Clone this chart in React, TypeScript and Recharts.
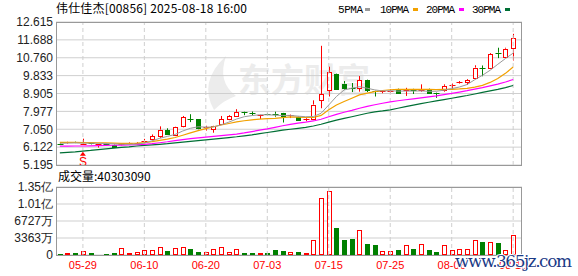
import React from "react";
import {
  Bar,
  CartesianGrid,
  ComposedChart,
  Line,
  ReferenceDot,
  ReferenceLine,
  XAxis,
  YAxis,
} from "recharts";

const dates = [
  "05-26", "05-27", "05-28", "05-29", "05-30", "06-02", "06-03", "06-04", "06-05", "06-06",
  "06-09", "06-10", "06-11", "06-12", "06-13", "06-16", "06-17", "06-18", "06-19", "06-20",
  "06-23", "06-24", "06-25", "06-26", "06-27", "06-30", "07-02", "07-03", "07-04", "07-07",
  "07-08", "07-09", "07-10", "07-11", "07-14", "07-15", "07-16", "07-17", "07-18", "07-21",
  "07-22", "07-23", "07-24", "07-25", "07-28", "07-29", "07-30", "07-31", "08-01", "08-04",
  "08-05", "08-06", "08-07", "08-08", "08-11", "08-12", "08-13", "08-14", "08-15", "08-18",
];

const open = [
  6.30, 6.33, 6.40, 6.27, 6.32, 6.26, 6.29, 6.24, 6.24, 6.29,
  6.30, 6.40, 6.52, 6.71, 7.00, 6.76, 7.20, 7.58, 7.57, 7.12,
  7.09, 7.32, 7.57, 7.75, 7.94, 7.89, 7.76, 7.84, 7.85, 7.88,
  7.75, 7.71, 7.56, 7.60, 8.57, 9.07, 9.92, 9.42, 9.20, 9.18,
  9.63, 9.02, 9.00, 9.03, 9.14, 9.05, 9.08, 9.05, 9.14, 8.92,
  9.07, 9.30, 9.43, 9.50, 9.73, 10.22, 10.22, 11.02, 10.80, 11.28,
];
const high = [
  6.33, 6.40, 6.42, 6.56, 6.34, 6.30, 6.31, 6.26, 6.32, 6.37,
  6.38, 6.55, 6.78, 7.20, 7.10, 7.18, 7.74, 7.83, 7.58, 7.23,
  7.24, 7.74, 7.78, 8.09, 7.96, 7.97, 7.80, 7.88, 7.96, 7.90,
  7.81, 7.73, 7.63, 8.55, 11.38, 10.30, 9.94, 9.55, 9.45, 9.81,
  9.65, 9.05, 9.06, 9.12, 9.16, 9.20, 9.15, 9.38, 9.16, 8.95,
  9.38, 9.42, 9.55, 9.65, 10.37, 10.36, 11.00, 11.28, 11.28, 12.00,
];
const low = [
  6.24, 6.30, 6.33, 6.25, 6.26, 6.10, 6.24, 6.12, 6.22, 6.26,
  6.28, 6.38, 6.48, 6.60, 6.76, 6.70, 7.15, 7.42, 7.05, 6.98,
  6.87, 7.28, 7.52, 7.70, 7.78, 7.77, 7.58, 7.78, 7.70, 7.40,
  7.63, 7.52, 7.47, 7.52, 8.14, 8.75, 9.10, 9.10, 8.98, 9.00,
  8.98, 8.75, 8.92, 8.94, 8.90, 8.78, 8.88, 9.00, 8.88, 8.68,
  9.00, 9.10, 9.40, 9.35, 9.70, 9.80, 10.18, 10.74, 10.78, 10.62,
];
const close = [
  6.27, 6.37, 6.36, 6.31, 6.28, 6.29, 6.27, 6.16, 6.28, 6.34,
  6.34, 6.45, 6.69, 7.03, 6.78, 7.16, 7.66, 7.56, 7.12, 7.15,
  7.23, 7.57, 7.73, 7.95, 7.90, 7.86, 7.79, 7.82, 7.82, 7.74,
  7.78, 7.54, 7.59, 8.33, 8.88, 10.00, 9.15, 9.20, 9.18, 9.60,
  9.12, 9.00, 9.03, 9.05, 8.95, 9.08, 9.06, 9.08, 8.92, 8.90,
  9.30, 9.33, 9.50, 9.58, 10.25, 10.20, 10.93, 10.98, 11.23, 11.80,
];

// shares
const volume = [
  2.0e6, 4.0e6, 4.0e6, 7.9e6, 4.0e6, 2.0e6, 2.0e6, 4.0e6, 13.8e6, 4.0e6,
  5.9e6, 9.9e6, 9.9e6, 15.8e6, 7.9e6, 13.8e6, 15.8e6, 11.9e6, 5.9e6, 5.9e6,
  11.9e6, 15.8e6, 5.9e6, 11.9e6, 4.0e6, 4.0e6, 4.0e6, 4.0e6, 9.9e6, 7.9e6,
  5.3e6, 5.3e6, 3.3e6, 29e6, 112e6, 127e6, 54e6, 30e6, 32e6, 49e6,
  22e6, 20e6, 8.6e6, 8e6, 10e6, 20e6, 12e6, 22e6, 10e6, 6.6e6,
  20e6, 10e6, 11e6, 11e6, 29e6, 26e6, 26e6, 24e6, 10e6, 40303090,
];

const ma5 = [
  6.32, 6.33, 6.34, 6.33, 6.33, 6.32, 6.31, 6.29, 6.27, 6.27,
  6.28, 6.33, 6.45, 6.58, 6.68, 6.78, 6.96, 7.10, 7.18, 7.16,
  7.17, 7.28, 7.42, 7.58, 7.70, 7.76, 7.80, 7.80, 7.78, 7.76,
  7.77, 7.73, 7.70, 7.71, 7.88, 8.31, 8.75, 9.09, 9.18, 9.26,
  9.18, 9.09, 9.04, 9.05, 9.03, 9.03, 9.03, 9.04, 9.02, 9.02,
  9.08, 9.16, 9.24, 9.37, 9.62, 9.85, 10.11, 10.42, 10.72, 11.00,
];
const ma10 = [
  6.37, 6.37, 6.37, 6.36, 6.36, 6.35, 6.34, 6.33, 6.32, 6.32,
  6.33, 6.36, 6.41, 6.47, 6.54, 6.62, 6.74, 6.86, 6.98, 7.08,
  7.18, 7.27, 7.35, 7.43, 7.49, 7.54, 7.58, 7.60, 7.61, 7.65,
  7.69, 7.68, 7.66, 7.66, 7.77, 8.06, 8.31, 8.49, 8.66, 8.83,
  8.92, 9.00, 9.06, 9.10, 9.12, 9.12, 9.12, 9.12, 9.12, 9.11,
  9.12, 9.12, 9.14, 9.17, 9.24, 9.33, 9.48, 9.68, 9.95, 10.28,
];
const ma20 = [
  6.17, 6.17, 6.18, 6.18, 6.19, 6.20, 6.21, 6.22, 6.23, 6.24,
  6.25, 6.27, 6.30, 6.35, 6.40, 6.46, 6.51, 6.56, 6.60, 6.64,
  6.68, 6.72, 6.76, 6.80, 6.86, 6.93, 7.00, 7.07, 7.15, 7.23,
  7.30, 7.37, 7.42, 7.48, 7.57, 7.70, 7.82, 7.93, 8.03, 8.14,
  8.24, 8.32, 8.40, 8.47, 8.53, 8.58, 8.63, 8.68, 8.73, 8.78,
  8.85, 8.91, 8.98, 9.05, 9.13, 9.21, 9.30, 9.39, 9.50, 9.63,
];
const ma30 = [
  5.82, 5.85, 5.88, 5.92, 5.95, 5.99, 6.03, 6.07, 6.11, 6.14,
  6.18, 6.21, 6.24, 6.27, 6.30, 6.34, 6.38, 6.42, 6.46, 6.50,
  6.54, 6.58, 6.62, 6.66, 6.71, 6.76, 6.82, 6.88, 6.94, 7.00,
  7.05, 7.10, 7.15, 7.22, 7.31, 7.42, 7.52, 7.61, 7.70, 7.79,
  7.88, 7.95, 8.00, 8.06, 8.14, 8.22, 8.30, 8.38, 8.45, 8.52,
  8.59, 8.66, 8.73, 8.80, 8.88, 8.96, 9.04, 9.12, 9.21, 9.32,
];

const priceTicks = [5.195, 6.122, 7.05, 7.977, 8.905, 9.833, 10.76, 11.688, 12.615];
const volTicks = [0, 33635000, 67270000, 100905000, 134540000];
const labelDates = ["05-29", "06-10", "06-20", "07-03", "07-15", "07-25", "08-06", "08-18"];
const signals = [{ date: "05-29", text: "S" }];

const RED = "#ff0000";
const GREEN = "#008000";
const maColors = { ma5: "#9a9a9a", ma10: "#f2a100", ma20: "#ff00ff", ma30: "#006f35" };

const data = dates.map((d, i) => ({
  date: d,
  open: open[i],
  high: high[i],
  low: low[i],
  close: close[i],
  volume: volume[i],
  ma5: ma5[i],
  ma10: ma10[i],
  ma20: ma20[i],
  ma30: ma30[i],
}));

const axisFont = { fontFamily: "Liberation Sans, Arial", fontSize: 12, fill: "#222" };

const Candle = (props: any) => {
  const { x, y, width, height, payload } = props;
  if (!payload) return null;
  const top = Math.min(y, y + height);
  const h = Math.abs(height);
  const span = payload.high - payload.low || 1;
  const py = (v: number) => top + ((payload.high - v) / span) * h;
  const cx = Math.round(x + width / 2) + 0.5;
  const up = payload.close >= payload.open;
  const color = up ? RED : GREEN;
  const yo = py(payload.open);
  const yc = py(payload.close);
  const bTop = Math.min(yo, yc);
  const bBot = Math.max(yo, yc);
  return (
    <g>
      <line x1={cx} x2={cx} y1={top} y2={bTop} stroke={color} />
      <line x1={cx} x2={cx} y1={bBot} y2={top + h} stroke={color} />
      {bBot - bTop < 1.5 ? (
        <line x1={cx - 3} x2={cx + 3} y1={Math.round(bTop) + 0.5} y2={Math.round(bTop) + 0.5} stroke={color} />
      ) : (
        <rect
          x={cx - 2}
          y={Math.round(bTop) + 0.5}
          width={4}
          height={Math.max(1, Math.round(bBot - bTop))}
          fill={up ? "#fff" : color}
          stroke={color}
        />
      )}
    </g>
  );
};

const VolBar = (props: any) => {
  const { x, y, width, height, payload } = props;
  if (!payload) return null;
  const up = payload.close >= payload.open;
  const cx = Math.round(x + width / 2);
  const top = Math.round(y);
  const h = Math.max(1, Math.round(height));
  if (up) {
    return <rect x={cx - 2 + 0.5} y={top + 0.5} width={4} height={h - 1} fill="#fff" stroke={RED} />;
  }
  return <rect x={cx - 2} y={top} width={5} height={h} fill={GREEN} />;
};

const SignalMark = (props: any) => {
  const { cx, cy, text } = props;
  const t = cy + 7;
  return (
    <g>
      <path d={`M${cx} ${t} L${cx - 3} ${t + 4} L${cx + 3} ${t + 4} Z`} fill={RED} />
      <text x={cx} y={t + 14} textAnchor="middle" fill={RED} fontSize={12} fontFamily="Liberation Sans, Arial">
        {text}
      </text>
    </g>
  );
};

const volFormat = (v: number) => {
  if (v >= 1e8) return (v / 1e8).toFixed(2) + "亿";
  if (v > 0) return Math.floor(v / 1e4) + "万";
  return "0";
};

const legendFont = { fontSize: 11, fill: "#000", fontFamily: "Liberation Mono" };

export default function App() {
  return (
    <div style={{ position: "absolute", left: 0, top: 0, width: 578, height: 276, background: "#fff" }}>
      <svg width={578} height={276} style={{ position: "absolute", left: 0, top: 0 }}>
        <path d="M214 110 Q198 82 226 56 Q217 82 236 96 Q224 100 214 110 Z" fill="#ececec" />
        <text x={238} y={92} fontSize={33} fontWeight="bold" fill="#ececec" fontFamily="Noto Sans CJK SC">
          东方财富
        </text>
      </svg>

      <div style={{ position: "absolute", left: 0, top: 0 }}>
        <ComposedChart width={578} height={176} data={data} margin={{ top: 22, right: 56, bottom: 11, left: 0 }}>
          <CartesianGrid vertical={false} stroke="#cfcfcf" />
          <XAxis dataKey="date" hide padding={{ left: 0, right: 5 }} />
          <YAxis
            domain={[5.195, 12.615]}
            ticks={priceTicks}
            allowDataOverflow
            interval={0}
            axisLine={false}
            tickLine={false}
            tickSize={1}
            tickMargin={2}
            width={56}
            tick={axisFont}
            tickFormatter={(v) => v.toFixed(3)}
          />
          {labelDates.map((d) => (
            <ReferenceLine key={d} x={d} stroke="#cfcfcf" strokeDasharray="4 3" />
          ))}
          <Line dataKey="ma30" stroke={maColors.ma30} strokeWidth={1.2} dot={false} isAnimationActive={false} />
          <Line dataKey="ma20" stroke={maColors.ma20} strokeWidth={1.2} dot={false} isAnimationActive={false} />
          <Line dataKey="ma10" stroke={maColors.ma10} strokeWidth={1.2} dot={false} isAnimationActive={false} />
          <Line dataKey="ma5" stroke={maColors.ma5} strokeWidth={1} dot={false} isAnimationActive={false} />
          <Bar
            dataKey={(d: any) => [d.low, d.high]}
            shape={(p: any) => <Candle {...p} />}
            isAnimationActive={false}
          />
          {signals.map((s) => (
            <ReferenceDot
              key={s.date}
              x={s.date}
              y={low[dates.indexOf(s.date)]}
              r={0}
              shape={(p: any) => <SignalMark {...p} text={s.text} />}
            />
          ))}
        </ComposedChart>
      </div>

      <div style={{ position: "absolute", left: 0, top: 170 }}>
        <ComposedChart width={578} height={106} data={data} margin={{ top: 17, right: 56, bottom: 0, left: 0 }}>
          <CartesianGrid vertical={false} stroke="#cfcfcf" />
          <XAxis
            dataKey="date"
            ticks={labelDates}
            interval={0}
            padding={{ left: 0, right: 5 }}
            axisLine={false}
            tickLine={false}
            tickSize={4}
            tickMargin={2}
            height={21}
            tick={{ fontFamily: "Liberation Sans, Arial", fontSize: 11, fill: RED }}
          />
          <YAxis
            domain={[0, 134540000]}
            ticks={volTicks}
            interval={0}
            allowDataOverflow
            axisLine={false}
            tickLine={false}
            tickSize={1}
            tickMargin={2}
            width={56}
            tick={axisFont}
            tickFormatter={volFormat}
          />
          {labelDates.map((d) => (
            <ReferenceLine key={d} x={d} stroke="#cfcfcf" strokeDasharray="4 3" />
          ))}
          <Bar dataKey="volume" shape={(p: any) => <VolBar {...p} />} isAnimationActive={false} />
        </ComposedChart>
      </div>

      <svg width={578} height={276} style={{ position: "absolute", left: 0, top: 0, pointerEvents: "none" }}>
        <rect x={56.5} y={22.5} width={465} height={143} fill="none" stroke="#999" />
        <rect x={56.5} y={187.5} width={465} height={68} fill="none" stroke="#999" />
        <text x={56} y={12.5} fontSize={12} fill="#000" fontFamily="Noto Sans CJK SC" textLength={191}>
          伟仕佳杰[00856] 2025-08-18 16:00
        </text>
        <text x={338} y={12.5} {...legendFont} textLength={25}>5PMA</text>
        <rect x={365} y={8} width={5} height={3} fill={maColors.ma5} />
        <text x={380} y={12.5} {...legendFont} textLength={29}>10PMA</text>
        <rect x={413} y={8} width={5} height={3} fill={maColors.ma10} />
        <text x={426} y={12.5} {...legendFont} textLength={29}>20PMA</text>
        <rect x={459} y={8} width={5} height={3} fill={maColors.ma20} />
        <text x={472} y={12.5} {...legendFont} textLength={29}>30PMA</text>
        <rect x={505} y={8} width={5} height={3} fill={maColors.ma30} />
        <text x={58} y={181} fontSize={12} fill="#000" fontFamily="Noto Sans CJK SC">
          成交量:40303090
        </text>
        <text
          x={455}
          y={267}
          fontSize={17}
          fill="#1b3a86"
          stroke="#fff"
          strokeWidth={2}
          paintOrder="stroke"
          fontFamily="DejaVu Serif"
          textLength={117}
        >
          www.365jz.com
        </text>
      </svg>
    </div>
  );
}
